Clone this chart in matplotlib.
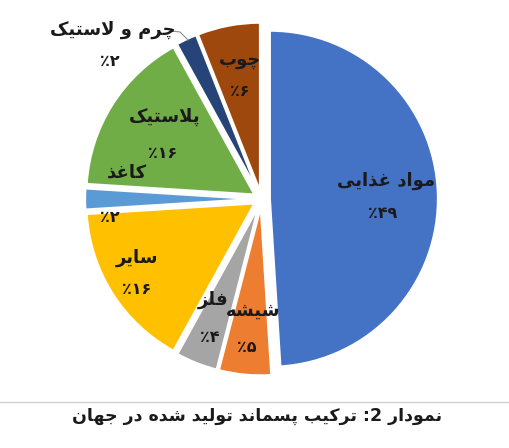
import matplotlib
matplotlib.use('Agg')
import matplotlib.pyplot as plt

# slices, clockwise from the top
categories = ['مواد غذایی', 'شیشه', 'فلز', 'سایر', 'کاغذ', 'پلاستیک', 'چرم و لاستیک', 'چوب']
values = [49, 5, 4, 16, 2, 16, 2, 6]
title = 'نمودار 2: ترکیب پسماند تولید شده در جهان'

colors = ['#4472C4', '#ED7D31', '#A5A5A5', '#FFC000', '#5B9BD5', '#70AD47', '#264478', '#9E480E']

# presentation forms: isolated, final, initial, medial
FORMS = {
    'ا': ('\uFE8D', '\uFE8E', None, None),
    'ب': ('\uFE8F', '\uFE90', '\uFE91', '\uFE92'),
    'پ': ('\uFB56', '\uFB57', '\uFB58', '\uFB59'),
    'ت': ('\uFE95', '\uFE96', '\uFE97', '\uFE98'),
    'ج': ('\uFE9D', '\uFE9E', '\uFE9F', '\uFEA0'),
    'چ': ('\uFB7A', '\uFB7B', '\uFB7C', '\uFB7D'),
    'د': ('\uFEA9', '\uFEAA', None, None),
    'ذ': ('\uFEAB', '\uFEAC', None, None),
    'ر': ('\uFEAD', '\uFEAE', None, None),
    'ز': ('\uFEAF', '\uFEB0', None, None),
    'س': ('\uFEB1', '\uFEB2', '\uFEB3', '\uFEB4'),
    'ش': ('\uFEB5', '\uFEB6', '\uFEB7', '\uFEB8'),
    'غ': ('\uFECD', '\uFECE', '\uFECF', '\uFED0'),
    'ف': ('\uFED1', '\uFED2', '\uFED3', '\uFED4'),
    'ک': ('\uFB8E', '\uFB8F', '\uFB90', '\uFB91'),
    'ل': ('\uFEDD', '\uFEDE', '\uFEDF', '\uFEE0'),
    'م': ('\uFEE1', '\uFEE2', '\uFEE3', '\uFEE4'),
    'ن': ('\uFEE5', '\uFEE6', '\uFEE7', '\uFEE8'),
    'ه': ('\uFEE9', '\uFEEA', '\uFEEB', '\uFEEC'),
    'و': ('\uFEED', '\uFEEE', None, None),
    'ی': ('\uFBFC', '\uFBFD', '\uFBFE', '\uFBFF'),
}


def shape(text):
    # join letters and return the string in visual (left to right) order
    out = []
    i = 0
    n = len(text)
    while i < n:
        c = text[i]
        if c not in FORMS:
            out.append(c)
            i += 1
            continue
        prev = text[i - 1] if i > 0 else ''
        join_prev = prev in FORMS and FORMS[prev][2] is not None
        if c == 'ل' and i + 1 < n and text[i + 1] == 'ا':
            out.append('\uFEFC' if join_prev else '\uFEFB')
            i += 2
            continue
        nxt = text[i + 1] if i + 1 < n else ''
        join_next = FORMS[c][2] is not None and nxt in FORMS
        f = FORMS[c]
        if join_prev and join_next:
            out.append(f[3])
        elif join_prev:
            out.append(f[1])
        elif join_next:
            out.append(f[2])
        else:
            out.append(f[0])
        i += 1
    return ''.join(reversed(out))


def fa_num(v):
    return ''.join('۰۱۲۳۴۵۶۷۸۹'[int(d)] for d in str(v))


W, H = 510, 448
fig = plt.figure(figsize=(W / 100, H / 100), dpi=100)
cx, cy, R = 261.5, 199, 168
ax = fig.add_axes([0, 0, 1, 1])


def px(x, y):
    return (x - cx) / R, (cy - y) / R


ax.pie(values, colors=colors, startangle=90, counterclock=False, radius=1.0,
       explode=[0.05] * len(values),
       wedgeprops=dict(edgecolor='white', linewidth=1.5))
ax.set_xlim(-cx / R, (W - cx) / R)
ax.set_ylim((cy - H) / R, cy / R)
ax.axis('off')

# label positions in pixels (name, percent)
label_pos = [((386, 181), (383, 214)),
             ((253, 311), (247, 347)),
             ((213, 300), (210, 337)),
             ((137, 258), (137, 290)),
             ((127, 173), (110, 217)),
             ((165, 117), (163, 153)),
             ((113, 30), (110, 62)),
             ((240, 60), (240, 91))]

font = dict(family='DejaVu Sans', weight='bold', color='#1a1a1a', ha='center', va='center')
for cat, v, (p1, p2) in zip(categories, values, label_pos):
    ax.text(*px(*p1), shape(cat), fontsize=13, **font)
    ax.text(*px(*p2), '٪' + fa_num(v), fontsize=11.5, **font)

# leader line for the small slice
lx, ly = zip(px(172, 31), px(180, 32), px(188, 40))
ax.plot(lx, ly, color='#8c8c8c', linewidth=0.8)

fig.add_artist(plt.Line2D([0, 1], [1 - 402 / H, 1 - 402 / H], color='#d0d0d0', linewidth=1))
fig.text(257 / W, 1 - 416 / H, shape(title), fontsize=12.5, family='DejaVu Sans',
         weight='bold', ha='center', va='center', color='#1a1a1a')

fig.savefig('out.png', dpi=100, facecolor='white')
